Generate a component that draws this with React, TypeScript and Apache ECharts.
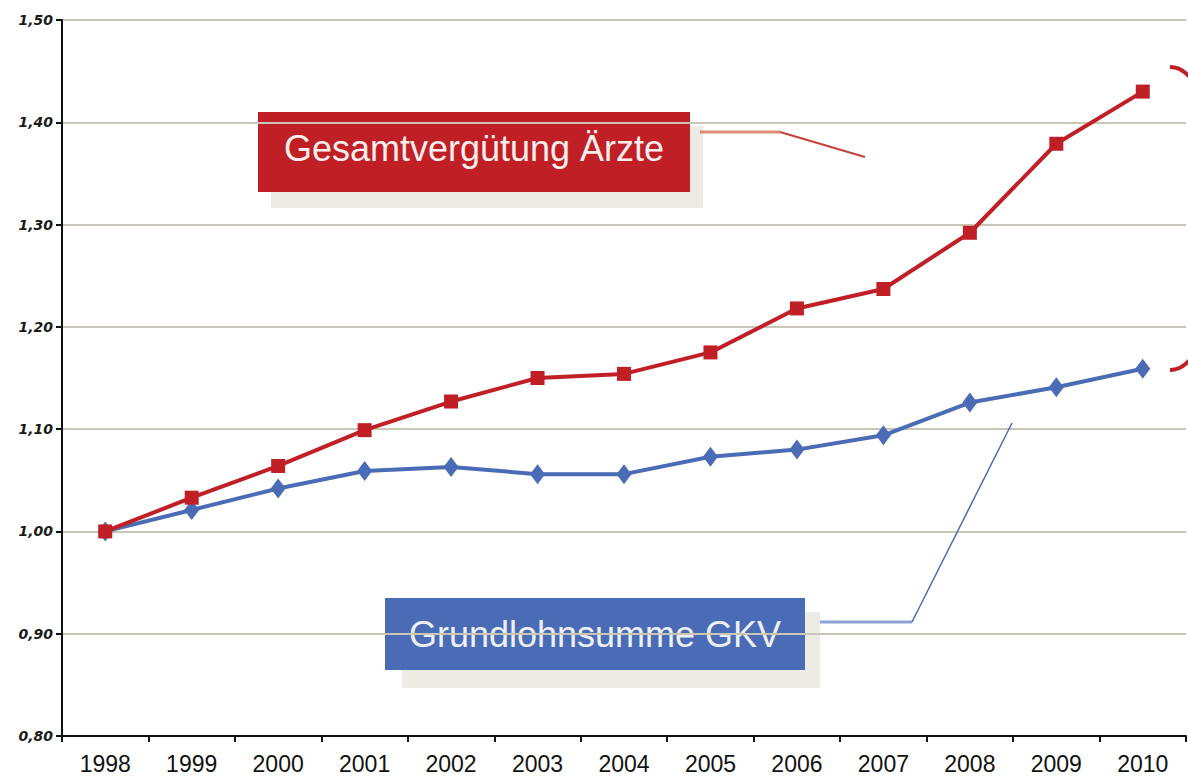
import React, { useEffect, useRef } from "react";
import * as echarts from "echarts";

const years = ["1998", "1999", "2000", "2001", "2002", "2003", "2004", "2005", "2006", "2007", "2008", "2009", "2010"];
const gesamtverguetung = [1.0, 1.033, 1.064, 1.099, 1.127, 1.15, 1.154, 1.175, 1.218, 1.237, 1.292, 1.379, 1.43];
const grundlohnsumme = [1.0, 1.021, 1.042, 1.059, 1.063, 1.056, 1.056, 1.073, 1.08, 1.094, 1.126, 1.141, 1.159];
const redLabel = "Gesamtvergütung Ärzte";
const blueLabel = "Grundlohnsumme GKV";

const RED = "#c01f26";
const BLUE = "#4a6bb5";

export default function App() {
  const ref = useRef<HTMLDivElement>(null);
  useEffect(() => {
    if (!ref.current) return;
    const chart = echarts.init(ref.current, undefined, { renderer: "svg" });
    chart.setOption({
      animation: false,
      backgroundColor: "#ffffff",
      grid: { left: 62, right: 2, top: 20, bottom: 47, containLabel: false },
      xAxis: {
        type: "category",
        data: years,
        boundaryGap: true,
        axisLine: { show: true, lineStyle: { color: "#111", width: 2 } },
        axisTick: { show: true, length: 6, lineStyle: { color: "#111", width: 2 } },
        axisLabel: {
          color: "#111",
          fontSize: 23,
          fontFamily: "'Liberation Sans Narrow', 'Liberation Sans', Arial, sans-serif",
          margin: 16,
        },
        splitLine: { show: false },
      },
      yAxis: {
        type: "value",
        min: 0.8,
        max: 1.5,
        interval: 0.1,
        axisLine: { show: true, lineStyle: { color: "#111", width: 2 } },
        axisTick: { show: true, length: 6, lineStyle: { color: "#111", width: 2 } },
        axisLabel: {
          color: "#1a1a1a",
          fontSize: 14,
          fontWeight: "bold",
          fontStyle: "italic",
          fontFamily: "'DejaVu Sans', sans-serif",
          margin: 9,
          formatter: (v: number) => v.toFixed(2).replace(".", ","),
        },
        splitLine: { show: true, lineStyle: { color: "#c9c6b5", width: 2 } },
      },
      series: [
        {
          type: "line",
          name: blueLabel,
          data: grundlohnsumme,
          symbol: "diamond",
          symbolSize: [15, 20],
          lineStyle: { color: BLUE, width: 4 },
          itemStyle: { color: BLUE },
          z: 3,
        },
        {
          type: "line",
          name: redLabel,
          data: gesamtverguetung,
          symbol: "rect",
          symbolSize: 14,
          lineStyle: { color: RED, width: 4 },
          itemStyle: { color: RED },
          z: 4,
        },
      ],
      graphic: [
        { type: "rect", z: -10, shape: { x: 271, y: 126, width: 432, height: 82 }, style: { fill: "#ecebe4" } },
        { type: "rect", z: -9, shape: { x: 258, y: 112, width: 432, height: 80 }, style: { fill: RED } },
        {
          type: "text",
          z: -8,
          x: 474,
          y: 148,
          style: {
            text: redLabel,
            fill: "#fbefee",
            fontSize: 36,
            fontFamily: "'Liberation Sans', Arial, sans-serif",
            align: "center",
            verticalAlign: "middle",
          },
        },
        { type: "polyline", z: 5, shape: { points: [[700, 132], [780, 132]] }, style: { stroke: "#df8a74", lineWidth: 3, fill: "none" } },
        { type: "polyline", z: 5, shape: { points: [[780, 132], [865, 157]] }, style: { stroke: "#c8403a", lineWidth: 2, fill: "none" } },
        { type: "rect", z: -10, shape: { x: 402, y: 612, width: 418, height: 76 }, style: { fill: "#ecebe4" } },
        { type: "rect", z: -9, shape: { x: 385, y: 598, width: 420, height: 72 }, style: { fill: BLUE } },
        {
          type: "text",
          z: -8,
          x: 595,
          y: 634,
          style: {
            text: blueLabel,
            fill: "#eef0f8",
            fontSize: 36,
            fontFamily: "'Liberation Sans', Arial, sans-serif",
            align: "center",
            verticalAlign: "middle",
          },
        },
        { type: "polyline", z: 5, shape: { points: [[820, 622], [912, 622]] }, style: { stroke: "#8ea0d6", lineWidth: 3, fill: "none" } },
        { type: "polyline", z: 5, shape: { points: [[912, 622], [1012, 423]] }, style: { stroke: BLUE, lineWidth: 1.5, fill: "none" } },
        {
          type: "bezierCurve",
          z: 6,
          shape: { x1: 1170, y1: 67, cpx1: 1237, cpy1: 67, cpx2: 1237, cpy2: 370, x2: 1170, y2: 370 },
          style: { stroke: RED, lineWidth: 4, fill: "none" },
        },
      ],
    });
    return () => chart.dispose();
  }, []);
  return <div ref={ref} style={{ position: "absolute", left: 0, top: 0, width: 1188, height: 783 }} />;
}
